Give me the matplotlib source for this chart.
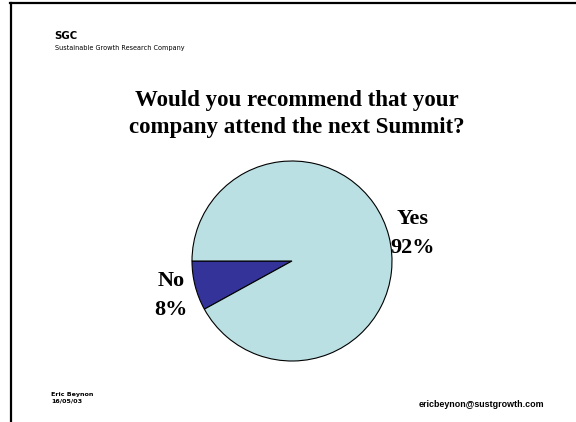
import matplotlib
matplotlib.use("Agg")
import matplotlib.pyplot as plt
from matplotlib.lines import Line2D
from matplotlib.transforms import ScaledTranslation

answers = ["No", "Yes"]
shares = [8, 92]
colors = ["#333399", "#BBE0E3"]

title = "Would you recommend that your\ncompany attend the next Summit?"
company = "SGC"
company_name = "Sustainable Growth Research Company"
author = "Eric Beynon\n16/05/03"
email = "ericbeynon@sustgrowth.com"

W, H = 576, 422
fig = plt.figure(figsize=(W / 100, H / 100), dpi=100)
fig.patch.set_facecolor("white")


def px(x, y):
    # pixel coords (origin top-left) -> figure fraction
    return x / W, 1 - y / H


# slide frame: top and left rules
fig.add_artist(Line2D([10 / W, 1], [1 - 2.5 / H] * 2, color="black", lw=1.6,
                      transform=fig.transFigure))
fig.add_artist(Line2D([10.5 / W] * 2, [0, 1 - 2.5 / H], color="black", lw=1.6,
                      transform=fig.transFigure))

fig.text(*px(54, 39), company, fontsize=7.3, fontweight="bold",
         family="DejaVu Sans", ha="left", va="baseline")
fig.text(*px(55, 50), company_name, fontsize=4.7, family="DejaVu Sans",
         ha="left", va="baseline")

fig.text(*px(297, 90), title, fontsize=16.5, fontweight="bold",
         family="Liberation Serif", ha="center", va="top", linespacing=1.35)

fig.text(*px(51, 392), author, fontsize=4.6, fontweight="bold",
         family="DejaVu Sans", ha="left", va="top", linespacing=1.45)
fig.text(*px(544, 407), email, fontsize=6.4, fontweight="bold",
         family="Liberation Sans", ha="right", va="baseline")

# pie, radius 100 px centred at (292, 261)
ax = fig.add_axes([192 / W, (H - 361) / H, 200 / W, 200 / H])
labels = [f"{a}\n{s}%" for a, s in zip(answers, shares)]
wedges, texts = ax.pie(shares, labels=labels, colors=colors, startangle=180,
                       counterclock=True, labeldistance=1.25,
                       wedgeprops=dict(edgecolor="black", linewidth=0.8),
                       textprops=dict(fontsize=16, fontweight="bold",
                                      family="Liberation Serif"))
# nudge labels a little lower
nudge = ScaledTranslation(0, -0.035, fig.dpi_scale_trans)
for t in texts:
    t.set_ha("center")
    t.set_va("center")
    t.set_linespacing(1.6)
    t.set_transform(t.get_transform() + nudge)
ax.set_xlim(-1, 1)
ax.set_ylim(-1, 1)
ax.set_aspect("equal")
ax.axis("off")

fig.savefig("out.png", dpi=100)
